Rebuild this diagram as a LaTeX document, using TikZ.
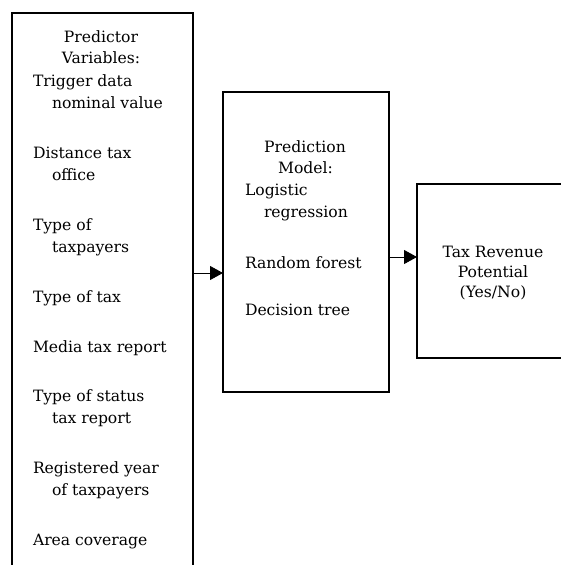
\documentclass[tikz,border=0pt]{standalone}
\usepackage{fontspec}
\setmainfont{DejaVu Serif}
\usetikzlibrary{arrows.meta}
\begin{document}
\begin{tikzpicture}[x=1pt,y=-1pt,
  box/.style={draw=black,line width=1.8pt,fill=none,inner sep=0pt,outer sep=0pt},
  txt/.style={inner sep=0pt,outer sep=0pt,anchor=base west,font=\fontsize{15.6}{20}\selectfont},
  ctxt/.style={inner sep=0pt,outer sep=0pt,anchor=base,font=\fontsize{15.6}{20}\selectfont},
  arr/.style={line width=0.9pt,-{Triangle[length=13pt,width=14pt]}}]
\useasboundingbox (0,0) rectangle (561,565);
\clip (0,0) rectangle (561,565);
% boxes
\node[box,minimum width=181pt,minimum height=587pt] (left) at (102.5,306.5) {};
\node[box,minimum width=166pt,minimum height=300pt] (mid) at (306,242) {};
\node[box,minimum width=183pt,minimum height=174pt] (right) at (508.5,271) {};
% left texts
\node[ctxt] (h1a) at (101,42) {Predictor};
\node[ctxt] (h1b) at (101,63.5) {Variables:};
\node[txt] (v1a) at (33,86) {Trigger data};
\node[txt] (v1b) at (52,108) {nominal value};
\node[txt] (v2a) at (33,158) {Distance tax};
\node[txt] (v2b) at (52,180) {office};
\node[txt] (v3a) at (33,230) {Type of};
\node[txt] (v3b) at (52,252) {taxpayers};
\node[txt] (v4) at (33,302) {Type of tax};
\node[txt] (v5) at (33,352) {Media tax report};
\node[txt] (v6a) at (33,401) {Type of status};
\node[txt] (v6b) at (52,423) {tax report};
\node[txt] (v7a) at (33,473) {Registered year};
\node[txt] (v7b) at (52,495) {of taxpayers};
\node[txt] (v8) at (33,545) {Area coverage};
% middle texts
\node[ctxt] (h2a) at (305,152) {Prediction};
\node[ctxt] (h2b) at (305.5,173.5) {Model:};
\node[txt] (m1a) at (245,195) {Logistic};
\node[txt] (m1b) at (264,217) {regression};
\node[txt] (m2) at (245,268) {Random forest};
\node[txt] (m3) at (245,315) {Decision tree};
% right text
\node[ctxt] (o1) at (493,257) {Tax Revenue};
\node[ctxt] (o2) at (493,277) {Potential};
\node[ctxt] (o3) at (493,297) {(Yes/No)};
% arrows
\coordinate (ya) at (0,273);
\coordinate (yb) at (0,257);
\draw[arr] (left.east |- ya) -- (mid.west |- ya);
\draw[arr] (mid.east |- yb) -- (right.west |- yb);
\end{tikzpicture}
\end{document}
